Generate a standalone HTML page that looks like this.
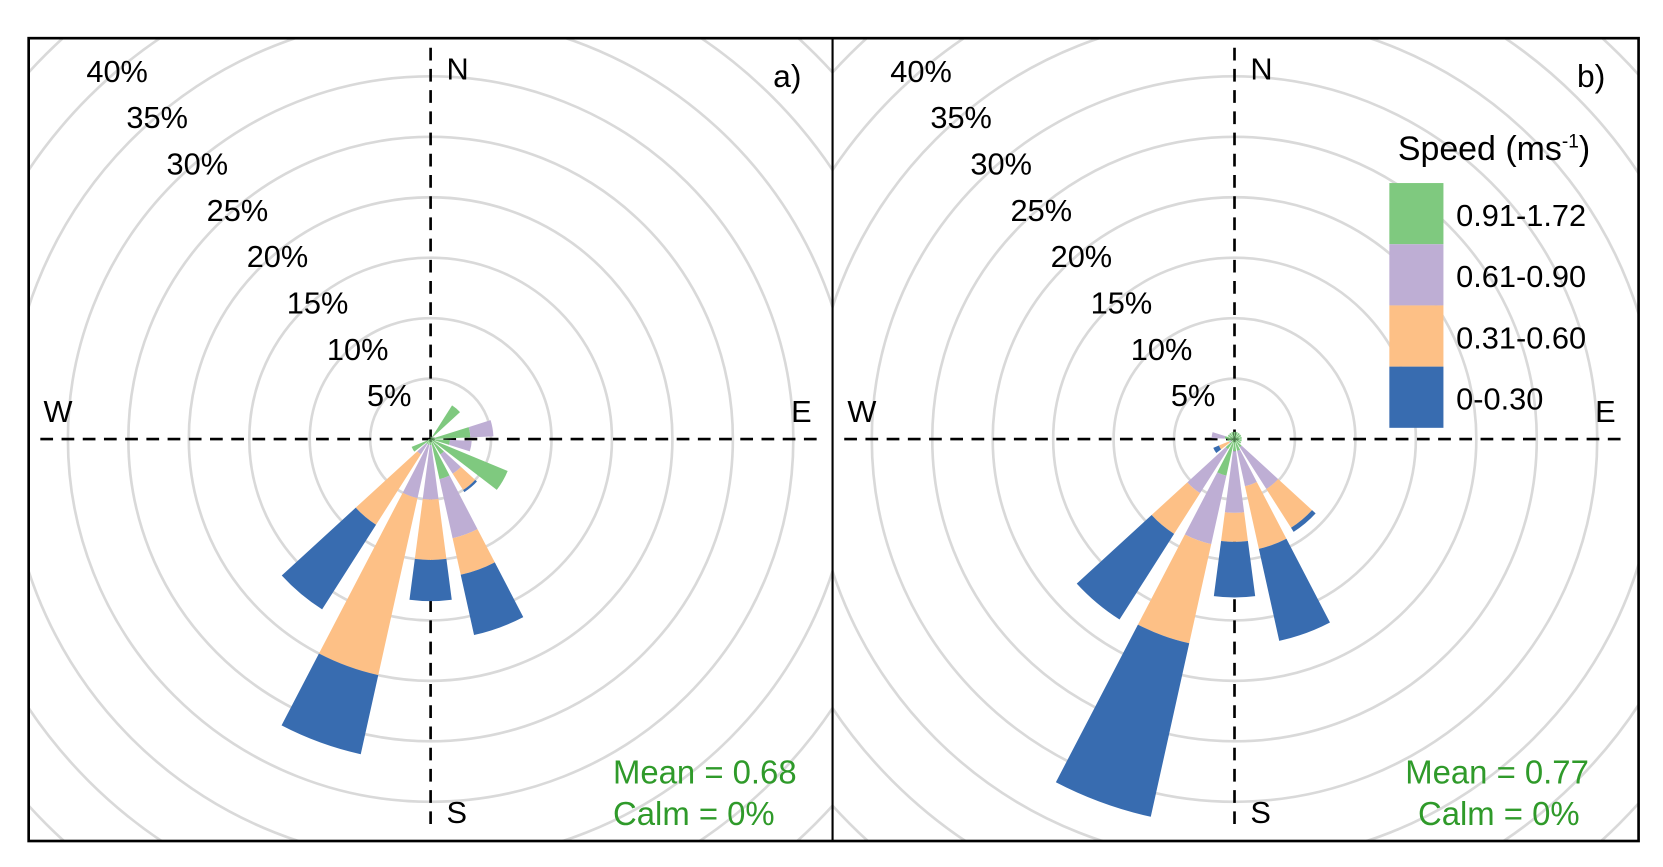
<!DOCTYPE html>
<html><head><meta charset="utf-8">
<style>
html,body{margin:0;padding:0;background:#fff;overflow:hidden;width:1663px;height:867px;}
svg{display:block;}
text{font-family:"Liberation Sans",sans-serif;}
</style></head>
<body>
<svg id="chart" width="1663" height="867" viewBox="0 0 1568 817.5" xmlns="http://www.w3.org/2000/svg">
<defs>
<clipPath id="clipA"><rect x="27" y="36" width="758" height="757"/></clipPath>
<clipPath id="clipB"><rect x="785" y="36" width="760" height="757"/></clipPath>
</defs>
<rect x="0" y="0" width="1568" height="817.5" fill="#fff"/>
<g id="panelA" clip-path="url(#clipA)"></g>
<g id="panelB" clip-path="url(#clipB)"></g>
<g id="legend">
 <text x="1318" y="151" font-size="32">Speed (ms<tspan font-size="18" dy="-12">-1</tspan><tspan dy="12">)</tspan></text>
</g>
<rect x="27" y="36" width="1518" height="757" fill="none" stroke="#000" stroke-width="2.5"/>
<line x1="785" y1="36" x2="785" y2="793" stroke="#000" stroke-width="2"/>
</svg>
<script>
var directions = [0,20,40,60,80,100,120,140,160,180,200,220,240,260,280,300,320,340];
var speedClasses = ["0.91-1.72","0.61-0.90","0.31-0.60","0-0.30"];
var classColors = ["#7fc97f","#beaed4","#fdc086","#386cb0"];
var ringTicks = [5,10,15,20,25,30,35,40];
// panel a segment values (%), per speed class
var aGreen  = [0.2,0.2,3.3,0.2,3.3,1.6,6.9,1.5,3.4,0.5,0.5,0.5,1.7,0.2,0,0,0,0];
var aPurple = [0,0,0,0,1.9,1.8,0,1.9,5.0,4.5,4.5,1.0,0,0,0,0,0,0];
var aOrange = [0,0,0,0,0,0,0,1.6,3.1,5.0,15.0,6.9,0,0,0,0,0,0];
var aBlue   = [0,0,0,0,0,0,0,0.2,5.1,3.4,6.7,8.3,0,0,0,0,0,0];
// panel b
var bGreen  = [0.6,0.6,0.6,0.6,0.6,0.6,0.6,0.8,1.0,1.0,3.1,1.0,0.3,0.6,0.8,0.6,0.6,0.6];
var bPurple = [0,0,0,0,0,0,0,4.1,3.0,5.1,5.8,4.3,0.2,0,1.1,0,0,0];
var bOrange = [0,0,0,0,0,0,0,3.8,5.3,2.4,8.4,4.0,0.9,0,0,0,0,0];
var bBlue   = [0,0,0,0,0,0,0,0.4,7.8,4.6,14.7,8.4,0.5,0,0,0,0,0];
var meanA = "0.68", meanB = "0.77", calmA = "0%", calmB = "0%";

var NS = "http://www.w3.org/2000/svg";
var PX = 11.4, HALF = 7.5;
function mk(tag, attrs, parent){ var e=document.createElementNS(NS,tag); for(var k in attrs) e.setAttribute(k,attrs[k]); parent.appendChild(e); return e; }
function pt(cx,cy,r,deg){ var a=deg*Math.PI/180; return [cx+r*Math.sin(a), cy-r*Math.cos(a)]; }
function wedge(cx,cy,r0,r1,dir){
  var a0=dir-HALF,a1=dir+HALF;
  var p1=pt(cx,cy,r1,a0),p2=pt(cx,cy,r1,a1),p3=pt(cx,cy,r0,a1),p4=pt(cx,cy,r0,a0);
  return "M"+p1+" A"+r1+","+r1+" 0 0 1 "+p2+" L"+p3+(r0>0?" A"+r0+","+r0+" 0 0 0 "+p4:"")+" Z";
}
function panel(g, cx, cy, series, label, meanStr, calmStr, meanX, calmX){
  for (var r=5;r<=70;r+=5){
    var c=mk("circle",{cx:cx,cy:cy,r:r*PX,fill:"none",stroke:"#d9d9d9","stroke-width":2.5},g);
    
    
  }
  var h=mk("line",{x1:cx-368,y1:cy,x2:cx+370,y2:cy,stroke:"#000","stroke-width":2.5,"stroke-dasharray":"12,8"},g);
   
  var v=mk("line",{x1:cx,y1:45,x2:cx,y2:785,stroke:"#000","stroke-width":2.5,"stroke-dasharray":"12,8"},g);
   
  for (var i=0;i<directions.length;i++){
    var cum=0;
    for (var s=0;s<series.length;s++){
      var val=series[s][i]; if(val<=0) continue;
      var p=mk("path",{d:wedge(cx,cy,cum*PX,(cum+val)*PX,directions[i]),fill:classColors[s]},g);
      
      
      cum+=val;
    }
  }
  for (var k=0;k<ringTicks.length;k++){
    var t=mk("text",{x:cx-60-37.8*k,y:cy-31-43.7*k,"font-size":29},g);
    t.textContent=ringTicks[k]+"%";
    
    
  }
  var dirs=[["N",cx+15,75],["S",cx+15,776],["W",cx-365,398],["E",cx+340,398]];
  dirs.forEach(function(d){ var t=mk("text",{x:d[1],y:d[2],"font-size":29},g); t.textContent=d[0];
      });
  var lb=mk("text",{x:cx+323,y:82,"font-size":30},g); lb.textContent=label;
   
  var m=mk("text",{x:meanX,y:739,"font-size":31,fill:"#2f9a2a"},g); m.textContent="Mean = "+meanStr;
   
  var cl=mk("text",{x:calmX,y:778,"font-size":31,fill:"#2f9a2a"},g); cl.textContent="Calm = "+calmStr;
   
}
panel(document.getElementById("panelA"),406,414,[aGreen,aPurple,aOrange,aBlue],"a)",meanA,calmA,578,578);
panel(document.getElementById("panelB"),1164,414,[bGreen,bPurple,bOrange,bBlue],"b)",meanB,calmB,1325,1337);
var lg=document.getElementById("legend");
for (var s=0;s<speedClasses.length;s++){
  var r=mk("rect",{x:1310,y:172.6+57.7*s,width:51,height:57.7,fill:classColors[s]},lg);
  
  
  var t=mk("text",{x:1373,y:213+57.7*s,"font-size":29},lg);
  t.textContent=speedClasses[s];
  
  
}
</script>
</body></html>
